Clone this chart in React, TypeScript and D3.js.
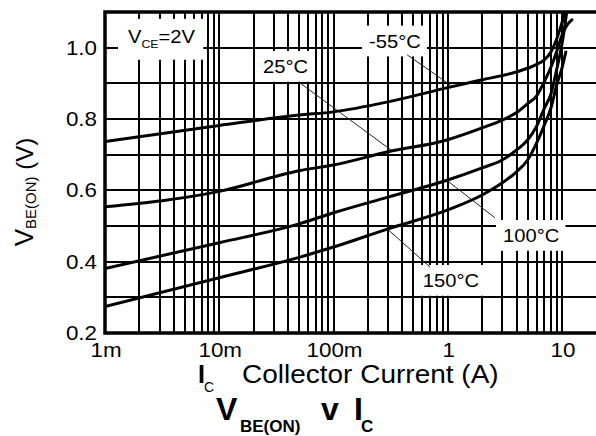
import { useEffect, useRef } from 'react';
import * as d3 from 'd3';

const width = 596;
const height = 436;

// collector current (A) and V_BE(on) (V)
const currentM55 = [0.001, 0.01, 0.05, 0.1, 0.3, 1, 2, 4, 6, 7, 8, 9, 10, 10.6];
const vbeM55 = [0.737, 0.782, 0.811, 0.82, 0.848, 0.888, 0.91, 0.932, 0.953, 0.966, 0.988, 1.025, 1.07, 1.1];

const current25 = [0.001, 0.01, 0.05, 0.1, 0.3, 1, 2, 3, 4, 5, 6, 7, 8, 9, 10, 11, 12.2];
const vbe25 = [0.554, 0.597, 0.655, 0.671, 0.708, 0.742, 0.775, 0.797, 0.818, 0.843, 0.865, 0.905, 0.945, 0.99, 1.035, 1.062, 1.078];

const current100 = [0.001, 0.01, 0.05, 0.1, 0.3, 1, 2, 3, 4, 5, 6, 7, 8, 9, 10, 11];
const vbe100 = [0.381, 0.453, 0.506, 0.537, 0.581, 0.629, 0.663, 0.685, 0.713, 0.741, 0.78, 0.83, 0.87, 0.94, 1.01, 1.1];

const current150 = [0.001, 0.01, 0.05, 0.1, 0.3, 1, 2, 3, 4, 5, 6, 7, 8, 9, 10, 10.8];
const vbe150 = [0.274, 0.355, 0.412, 0.441, 0.492, 0.545, 0.587, 0.621, 0.652, 0.685, 0.733, 0.783, 0.831, 0.896, 0.943, 0.988];

const xTicks = [0.001, 0.01, 0.1, 1, 10];
const xTickLabels = ['1m', '10m', '100m', '1', '10'];
const yTicks = [0.2, 0.4, 0.6, 0.8, 1.0];
const yGrid = [0.3, 0.4, 0.5, 0.6, 0.7, 0.8, 0.9, 1.0];

// curve labels: text start / baseline, leader from label to curve (current, volts)
const labelTexts = ['-55°C', '25°C', '100°C', '150°C'];
const labelAt = [[0.2045, 1.0], [0.02415, 0.929], [3.045, 0.455], [0.6054, 0.329]];
const leaderFrom = [[0.441, 0.98], [0.0509, 0.901], [2.59, 0.523], [0.7, 0.385]];
const leaderTo = [[1.112, 0.89], [0.325, 0.711], [1.0, 0.626], [0.3, 0.49]];
const vceAt = [0.00159, 1.0135];

const App = () => {
    const svgRef = useRef<SVGSVGElement>(null);

    useEffect(() => {
        document.body.style.margin = '0';
        const svg = d3.select(svgRef.current);
        svg.selectAll('*').remove();

        const font = "'Liberation Sans', Arial, Helvetica, sans-serif";
        const sx = 1.12;
        const left = 105;
        const top = 12;
        const bottom = 333;

        const x = d3.scaleLog().domain([0.001, 10]).range([left, 562]);
        const y = d3.scaleLinear().domain([0.2, 1.1]).range([bottom, top]);

        svg.append('clipPath').attr('id', 'plotclip')
            .append('rect')
            .attr('x', left).attr('y', top)
            .attr('width', width - left).attr('height', bottom - top);

        // grid
        const vLines: number[] = [];
        xTicks.slice(0, -1).forEach(d => {
            for (let k = 1; k <= 9; k++) vLines.push(d * k);
        });
        vLines.push(10);

        const grid = svg.append('g').attr('stroke', '#000').attr('stroke-width', 2);
        grid.selectAll('line.v')
            .data(vLines)
            .join('line')
            .attr('class', 'v')
            .attr('x1', d => Math.round(x(d))).attr('x2', d => Math.round(x(d)))
            .attr('y1', top).attr('y2', bottom);
        grid.selectAll('line.h')
            .data(yGrid)
            .join('line')
            .attr('class', 'h')
            .attr('x1', left).attr('x2', width)
            .attr('y1', d => Math.round(y(d))).attr('y2', d => Math.round(y(d)));

        // frame
        svg.append('path')
            .attr('d', `M${width},${top}H${left}V${bottom}H${width}`)
            .attr('fill', 'none')
            .attr('stroke', '#000')
            .attr('stroke-width', 3.5);

        // label boxes and text
        const labels = svg.append('g')
            .style('font-family', font)
            .style('font-size', '18px');

        const addBox = (t: any, px: number, py: number, pad: number[]) => {
            const bb = (t.node() as SVGTextElement).getBBox();
            labels.insert('rect', () => t.node())
                .attr('x', px + bb.x * sx - pad[0])
                .attr('y', py + bb.y - pad[2])
                .attr('width', bb.width * sx + pad[0] + pad[1])
                .attr('height', bb.height + pad[2] + pad[3])
                .attr('fill', '#fff');
        };

        labelTexts.forEach((txt, i) => {
            const px = x(labelAt[i][0]);
            const py = y(labelAt[i][1]);
            const t = labels.append('text')
                .attr('transform', `translate(${px},${py}) scale(${sx},1)`)
                .text(txt);
            addBox(t, px, py, [7, 6, 6, 5]);
        });

        {
            const px = x(vceAt[0]);
            const py = y(vceAt[1]);
            const t = labels.append('text')
                .attr('transform', `translate(${px},${py}) scale(${sx},1)`);
            t.append('tspan').text('V');
            t.append('tspan').attr('dy', 5).style('font-size', '11px').text('CE');
            t.append('tspan').attr('dy', -5).text('=2V');
            addBox(t, px, py, [10, 8, 8, 10]);
        }

        // leaders
        svg.append('g')
            .attr('stroke', '#222')
            .attr('stroke-width', 1)
            .selectAll('line')
            .data(labelTexts.map((_, i) => i))
            .join('line')
            .attr('x1', i => x(leaderFrom[i][0])).attr('y1', i => y(leaderFrom[i][1]))
            .attr('x2', i => x(leaderTo[i][0])).attr('y2', i => y(leaderTo[i][1]));

        // curves
        const series = [
            [currentM55, vbeM55],
            [current25, vbe25],
            [current100, vbe100],
            [current150, vbe150],
        ].map(([c, v]) => c.map((d, i) => [d, v[i]]));

        const line = d3.line<number[]>()
            .x(d => x(d[0]))
            .y(d => y(d[1]))
            .curve(d3.curveMonotoneX);

        svg.append('g')
            .attr('clip-path', 'url(#plotclip)')
            .selectAll('path')
            .data(series)
            .join('path')
            .attr('d', d => line(d))
            .attr('fill', 'none')
            .attr('stroke', '#000')
            .attr('stroke-width', 3)
            .attr('stroke-linecap', 'round');

        // tick labels
        const ticks = svg.append('g')
            .style('font-family', font)
            .style('font-size', '20px')
            .attr('fill', '#000');
        ticks.selectAll('text.y')
            .data(yTicks)
            .join('text')
            .attr('class', 'y')
            .attr('text-anchor', 'end')
            .attr('transform', d => `translate(97,${y(d) + 7}) scale(${sx},1)`)
            .text(d => d3.format('.1f')(d));
        ticks.selectAll('text.x')
            .data(xTicks)
            .join('text')
            .attr('class', 'x')
            .attr('text-anchor', 'middle')
            .attr('transform', d => `translate(${x(d) + 1},357) scale(${sx},1)`)
            .text((d, i) => xTickLabels[i]);

        // axis titles
        const ic = svg.append('text')
            .style('font-family', font)
            .attr('x', 198).attr('y', 383);
        ic.append('tspan').style('font-size', '25px').style('font-weight', 'bold').text('I');
        ic.append('tspan').attr('x', 204).attr('dy', 9).style('font-size', '14px').text('C');

        svg.append('text')
            .style('font-family', font)
            .style('font-size', '25px')
            .attr('transform', `translate(242,383) scale(1.12,1)`)
            .text('Collector Current (A)');

        const yt = svg.append('text')
            .style('font-family', font)
            .attr('text-anchor', 'middle')
            .attr('transform', 'translate(33,192) rotate(-90)');
        yt.append('tspan').style('font-size', '26px').text('V');
        yt.append('tspan').attr('dy', 3).style('font-size', '15px').text('BE(ON)');
        yt.append('tspan').attr('dy', -3).style('font-size', '24px').text(' (V)');

        // chart title
        const title = svg.append('text')
            .style('font-family', font)
            .style('font-weight', 'bold')
            .attr('y', 420);
        title.append('tspan').attr('x', 216).style('font-size', '32px').text('V');
        title.append('tspan').attr('x', 240).attr('dy', 12).style('font-size', '17px').text('BE(ON)');
        title.append('tspan').attr('x', 321).attr('dy', -12).style('font-size', '32px').text('v');
        title.append('tspan').attr('x', 354).style('font-size', '32px').text('I');
        title.append('tspan').attr('x', 361).attr('dy', 12).style('font-size', '17px').text('C');
    }, []);

    return (
        <svg ref={svgRef} width={width} height={height} style={{ display: 'block', background: '#fff' }}></svg>
    );
};

export default App;
